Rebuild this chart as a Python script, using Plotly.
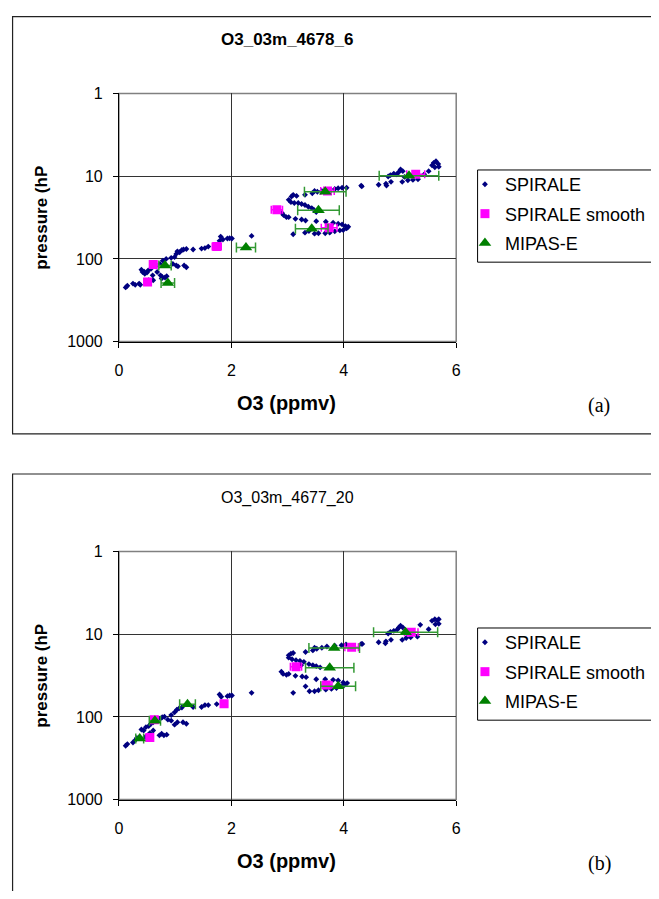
import plotly.graph_objects as go

# Panel (a) O3_03m_4678_6
a_spir_x = [0.12, 0.15, 0.25, 0.29, 0.36, 0.38, 0.42, 0.46, 0.50, 0.52, 0.57, 0.60, 0.65, 0.68, 0.74, 0.77, 0.82, 0.85,
            0.73, 0.78, 0.84, 0.93, 0.96, 1.02, 1.05, 1.16, 1.20, 0.99, 1.02, 1.04, 1.08, 1.12, 1.15, 1.20, 1.32, 1.47,
            1.53, 1.59, 1.79, 1.81, 1.85, 1.93, 1.97, 2.01, 2.36, 0.40, 0.45, 0.53, 0.61, 0.76,
            3.07, 3.10, 3.16, 3.02, 3.06, 3.12, 3.19, 3.25, 3.31, 3.37, 3.43, 3.47, 3.51, 2.90, 2.93, 2.98, 3.02, 3.14,
            3.25, 3.32, 3.51, 3.68, 3.81, 3.90, 3.97, 4.03, 4.08, 4.05, 3.99, 3.93, 3.84, 3.75, 3.67, 3.55, 3.48, 3.38,
            3.31, 3.10, 3.31, 3.44, 3.48, 3.53, 3.61, 3.73, 3.84, 3.90, 3.97, 4.05, 4.31,
            4.32, 4.62, 4.75, 4.76, 4.84, 4.79, 4.83, 4.89, 4.94, 4.98, 5.01, 5.05, 5.08, 5.04, 5.14, 5.23, 5.32, 5.43,
            5.51, 5.57, 5.60, 5.64, 5.68, 5.69, 5.62]
a_spir_p = [221, 211, 199, 206, 199, 206, 144, 151, 146, 138, 132, 158, 123, 144, 158, 165, 168, 162,
            115, 105, 100, 97, 115, 120, 123, 120, 126, 95, 87, 81, 83, 78, 77, 76, 77, 75,
            74, 71, 60.5, 53.7, 58.3, 56.7, 56.2, 56.7, 52.7, 135, 143, 181, 181, 173,
            17.6, 16.8, 17.3, 19.3, 20.6, 21.1, 21.1, 21.7, 22.3, 23.4, 24.3, 25.6, 27.1, 27.8, 29.6, 31.3, 31.3, 32.8,
            33.4, 34.3, 35.0, 35.6, 36.6, 37.6, 38.3, 40.1, 40.8, 42.8, 44.8, 45.2, 46.4, 48.2, 49.0, 49.0, 49.5, 46.0,
            48.2, 50.4, 16.8, 16.1, 15.1, 15.4, 15.1, 14.7, 14.3, 14.0, 13.8, 13.8, 13.0,
            13.3, 12.7, 12.3, 13.0, 11.7, 10.1, 9.7, 9.3, 9.5, 8.9, 8.3, 8.7, 10.2, 11.7, 11.2, 11.1, 10.9, 9.5,
            8.7, 7.4, 6.9, 6.6, 7.1, 7.7, 7.8]
a_smooth_x = [0.51, 0.61, 1.74, 2.81, 3.74, 3.71, 5.28]
a_smooth_p = [190, 117, 70.7, 25.4, 42.0, 15.1, 9.5]
a_smooth_err = [0.06, 0.06, 0.08, 0.10, 0.14, 0.12, 0.16]
a_mipas_x = [0.87, 0.82, 2.26, 3.43, 3.55, 3.67, 5.16]
a_mipas_p = [195, 120, 72.6, 43.2, 25.9, 15.4, 9.9]
a_mipas_err = [0.12, 0.11, 0.17, 0.29, 0.37, 0.37, 0.53]

# Panel (b) O3_03m_4677_20
b_spir_x = [0.12, 0.15, 0.25, 0.29, 0.32, 0.40, 0.44, 0.48, 0.53, 0.57, 0.61, 0.67, 0.73, 0.77, 0.81, 0.87, 0.93,
            0.99, 1.04, 1.14, 1.20, 0.93, 0.99, 1.03, 1.07, 1.12, 1.32, 1.47, 1.53, 1.59, 1.74, 1.79, 1.82, 1.93,
            1.97, 2.01, 2.36, 0.72, 0.76, 0.80, 0.85, 0.61, 0.55, 0.47,
            3.02, 3.06, 3.10, 3.02, 3.08, 3.15, 3.22, 3.29, 3.38, 3.45, 3.51, 3.58, 2.89, 2.92, 2.98, 3.02, 3.14,
            3.26, 3.33, 3.51, 3.67, 3.81, 3.90, 3.99, 4.06, 4.01, 3.95, 3.87, 3.78, 3.68, 3.55, 3.48, 3.39, 3.10,
            3.32, 3.45, 3.48, 3.52, 3.61, 3.70, 3.84, 3.96, 4.04, 4.31, 3.32, 3.24,
            4.33, 4.62, 4.74, 4.75, 4.84, 4.79, 4.83, 4.89, 4.95, 4.98, 5.01, 5.05, 5.11, 5.04, 5.19, 5.31, 5.36,
            5.51, 5.57, 5.62, 5.66, 5.69, 5.63, 5.69]
b_spir_p = [223, 213, 204, 191, 180, 142, 146, 133, 129, 121, 116, 111, 106, 101, 99.5, 108, 111,
            124, 116, 116, 121, 95, 88, 82, 79, 77, 76, 76, 72, 72, 70, 53.6, 57.1, 56.1,
            55.1, 55.1, 51.2, 167, 160, 167, 164, 146, 157, 175,
            18.0, 17.2, 16.9, 19.2, 20.1, 20.6, 21.0, 21.6, 23.0, 23.7, 24.3, 25.2, 28.4, 30.2, 31.0, 30.2, 31.9,
            32.5, 33.1, 35.0, 35.0, 35.6, 36.3, 38.3, 39.0, 41.2, 42.7, 44.7, 45.9, 46.8, 47.6, 49.0, 49.0, 51.2,
            16.4, 15.7, 14.6, 15.0, 14.6, 14.1, 13.8, 13.6, 13.3, 13.1, 42.7, 23.7,
            13.1, 12.5, 12.9, 12.2, 11.7, 9.8, 9.4, 9.1, 8.8, 8.3, 7.9, 8.3, 11.1, 11.7, 10.9, 10.7, 7.7,
            8.7, 6.9, 6.6, 6.8, 7.5, 7.6, 6.6]
b_smooth_x = [0.55, 0.63, 1.87, 3.15, 3.69, 4.14, 5.20]
b_smooth_p = [178, 108, 69.2, 24.8, 41.2, 14.4, 9.5]
b_smooth_err = [0.06, 0.06, 0.06, 0.10, 0.10, 0.12, 0.12]
b_mipas_x = [0.37, 0.64, 1.22, 3.90, 3.75, 3.83, 5.10]
b_mipas_p = [183, 111, 70.4, 42.7, 25.4, 14.7, 9.5]
b_mipas_err = [0.07, 0.10, 0.14, 0.31, 0.43, 0.45, 0.57]

x_ticks = [0, 2, 4, 6]
p_ticks = [1, 10, 100, 1000]
titles = ["<b>O3_03m_4678_6</b>", "O3_03m_4677_20"]
panel_tags = ["(a)", "(b)"]

# the page body has an 8px margin, so the figure is 16px smaller than the window
PAGE_W, PAGE_H = 659, 899
OFF = 8
W, H = PAGE_W - 2 * OFF, PAGE_H - 2 * OFF
FONT = "Liberation Sans, Arial, sans-serif"
NAVY, MAGENTA, GREEN = "#000080", "#FF00FF", "#008000"


def px_x(v):
    return (v - OFF) / W


def px_y(v):
    return 1 - (v - OFF) / H


fig = go.Figure()

panels = [
    (a_spir_x, a_spir_p, a_smooth_x, a_smooth_p, a_smooth_err, a_mipas_x, a_mipas_p, a_mipas_err),
    (b_spir_x, b_spir_p, b_smooth_x, b_smooth_p, b_smooth_err, b_mipas_x, b_mipas_p, b_mipas_err),
]
for i, (sx, sp, smx, smp, sme, mx, mp, me) in enumerate(panels):
    xa = "x" if i == 0 else "x2"
    ya = "y" if i == 0 else "y2"
    lg = "legend" if i == 0 else "legend2"
    fig.add_trace(go.Scatter(x=sx, y=sp, mode="markers", name="SPIRALE", xaxis=xa, yaxis=ya, legend=lg,
                             legendgroup="s%d" % i,
                             marker=dict(symbol="diamond", size=4.5, color=NAVY)))
    fig.add_trace(go.Scatter(x=smx, y=smp, mode="markers", name="SPIRALE smooth", xaxis=xa, yaxis=ya, legend=lg,
                             legendgroup="m%d" % i,
                             marker=dict(symbol="square", size=9, color=MAGENTA),
                             error_x=dict(type="data", array=sme, color=MAGENTA, thickness=1.5, width=4)))
    fig.add_trace(go.Scatter(x=mx, y=mp, mode="markers", name="MIPAS-E", xaxis=xa, yaxis=ya, legend=lg,
                             legendgroup="g%d" % i,
                             marker=dict(symbol="triangle-up", size=11, color=GREEN),
                             error_x=dict(type="data", array=me, color="#339933", thickness=1.5, width=5)))

# plot areas (reference pixels): x 118-465, y 87-340 (a) and 554-807 (b)
plot_boxes = [(87, 340), (554, 807)]
axis_common = dict(showline=True, linecolor="black", linewidth=1, ticks="outside", ticklen=5,
                   tickcolor="black", tickfont=dict(family=FONT, size=16, color="black"),
                   showgrid=True, gridcolor="#333333", gridwidth=1, zeroline=False)

layout_axes = {}
for i, (top, bot) in enumerate(plot_boxes):
    sfx = "" if i == 0 else "2"
    layout_axes["xaxis" + sfx] = dict(axis_common, domain=[px_x(118), px_x(465)], range=[0, 6],
                                      tickvals=x_ticks, anchor="y" + sfx, ticklabelstandoff=9)
    layout_axes["yaxis" + sfx] = dict(axis_common, domain=[px_y(bot), px_y(top)], type="log", range=[3, 0],
                                      tickvals=p_ticks, ticktext=[str(t) for t in p_ticks],
                                      anchor="x" + sfx, ticklabelstandoff=7)

shapes = []
annotations = []
frames = [(8.6, 434), (475, 930)]
legend_boxes = [(165, 259), (632, 726)]
for i, (top, bot) in enumerate(plot_boxes):
    # plot area border (grey top/right)
    shapes.append(dict(type="rect", xref="paper", yref="paper", x0=px_x(118), x1=px_x(465),
                       y0=px_y(bot), y1=px_y(top), line=dict(color="#808080", width=1.5), layer="below"))
    # outer chart frame
    f0, f1 = frames[i]
    shapes.append(dict(type="rect", xref="paper", yref="paper", x0=px_x(8.6), x1=px_x(680),
                       y0=px_y(f1), y1=px_y(f0), line=dict(color="#222222", width=1.2)))
    # legend box
    lt, lb = legend_boxes[i]
    shapes.append(dict(type="rect", xref="paper", yref="paper", x0=px_x(487), x1=px_x(690),
                       y0=px_y(lb), y1=px_y(lt), line=dict(color="black", width=1)))
    annotations.append(dict(text=titles[i], x=px_x(291), y=px_y(top - 55), xref="paper", yref="paper",
                            showarrow=False, xanchor="center", yanchor="middle",
                            font=dict(family=FONT, size=17 if i == 0 else 16, color="black")))
    annotations.append(dict(text="<b>pressure (hP</b>", x=px_x(38), y=px_y((top + bot) / 2), xref="paper",
                            yref="paper", showarrow=False, textangle=-90, xanchor="center", yanchor="middle",
                            font=dict(family=FONT, size=17, color="black")))
    annotations.append(dict(text="<b>O3 (ppmv)</b>", x=px_x(290), y=px_y(bot + 63), xref="paper", yref="paper",
                            showarrow=False, xanchor="center", yanchor="middle",
                            font=dict(family=FONT, size=20, color="black")))
    annotations.append(dict(text=panel_tags[i], x=px_x(612), y=px_y(bot + 65), xref="paper", yref="paper",
                            showarrow=False, xanchor="center", yanchor="middle",
                            font=dict(family="Liberation Serif, Times New Roman, serif", size=20, color="black")))

legend_common = dict(xanchor="left", yanchor="top", x=px_x(474), bgcolor="rgba(0,0,0,0)", borderwidth=0,
                     font=dict(family=FONT, size=18, color="black"), tracegroupgap=3, itemsizing="trace")

fig.update_layout(
    width=W, height=H, margin=dict(l=0, r=0, t=0, b=0),
    paper_bgcolor="white", plot_bgcolor="white",
    showlegend=True,
    legend=dict(legend_common, y=px_y(legend_boxes[0][0] - 4)),
    legend2=dict(legend_common, y=px_y(legend_boxes[1][0] - 4)),
    shapes=shapes, annotations=annotations,
    **layout_axes,
)

fig.write_html("out.html")
